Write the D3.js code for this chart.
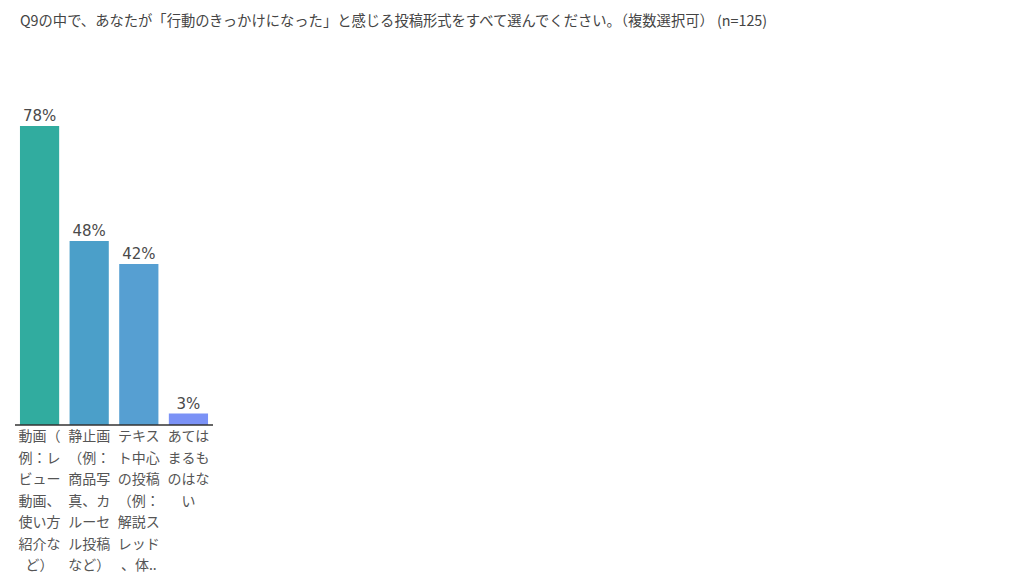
<!DOCTYPE html>
<html>
<head>
<meta charset="utf-8">
<script src="https://cdn.jsdelivr.net/npm/d3@7"></script>
<style>
  html, body { margin: 0; padding: 0; background: #fff; }
  body { width: 1024px; height: 583px; overflow: hidden; font-family: "Noto Sans CJK JP", "Noto Sans", sans-serif; }
  .title { font-size: 14.3px; fill: #444; }
  .val { font-size: 15px; fill: #4a4a4a; font-family: "DejaVu Sans", sans-serif; }
  .cat { font-size: 14px; fill: #555; }
</style>
</head>
<body>
<svg id="chart" width="1024" height="583"></svg>
<script>
// Q9 post formats that triggered action (n=125)
const TITLE = "Q9の中で、あなたが「行動のきっかけになった」と感じる投稿形式をすべて選んでください。（複数選択可） (n=125)";

const categories = [
  "動画（例：レビュー動画、使い方紹介など）",
  "静止画（例：商品写真、カルーセル投稿など）",
  "テキスト中心の投稿（例：解説スレッド、体験談など）",
  "あてはまるものはない",
];
const values = [78, 48, 42, 3];
const colors = ["#31ac9f", "#4b9fc9", "#569fd2", "#7b92f6"];

const svg = d3.select("#chart");

svg.append("text")
  .attr("class", "title")
  .attr("x", 20)
  .attr("y", 26)
  .text(TITLE);

const x = d3.scaleBand()
  .domain(categories)
  .range([15, 213])
  .paddingInner(0.21)
  .paddingOuter(0.1);

const y = d3.scaleLinear()
  .domain([0, 78])
  .range([425, 126]);

// bars
svg.selectAll(".bar")
  .data(categories)
  .join("rect")
  .attr("class", "bar")
  .attr("x", d => x(d))
  .attr("y", (d, i) => y(values[i]))
  .attr("width", x.bandwidth())
  .attr("height", (d, i) => y(0) - y(values[i]))
  .attr("fill", (d, i) => colors[i]);

// value labels
svg.selectAll(".val")
  .data(categories)
  .join("text")
  .attr("class", "val")
  .attr("x", d => x(d) + x.bandwidth() / 2)
  .attr("y", (d, i) => y(values[i]) - 5)
  .attr("text-anchor", "middle")
  .text((d, i) => values[i] + "%");

// baseline
svg.append("line")
  .attr("x1", 15).attr("x2", 213)
  .attr("y1", y(0)).attr("y2", y(0))
  .attr("stroke", "#333")
  .attr("stroke-width", 1.5);

// category labels, 3 chars per line, max 7 lines
function wrapChars(s, per, maxLines) {
  const chars = Array.from(s);
  const lines = [];
  for (let i = 0; i < chars.length; i += per) lines.push(chars.slice(i, i + per).join(""));
  if (lines.length > maxLines) {
    const out = lines.slice(0, maxLines);
    const last = Array.from(out[maxLines - 1]);
    out[maxLines - 1] = last.slice(0, per - 1).join("") + "..";
    return out;
  }
  return lines;
}

const catG = svg.selectAll(".cat-g")
  .data(categories)
  .join("g")
  .attr("class", "cat-g");

catG.each(function(d) {
  const lines = wrapChars(d, 3, 7);
  d3.select(this).selectAll("text")
    .data(lines)
    .join("text")
    .attr("class", "cat")
    .attr("x", x(d) + x.bandwidth() / 2)
    .attr("y", (_, i) => 441 + i * 21.5)
    .attr("text-anchor", "middle")
    .text(t => t);
});
</script>
</body>
</html>
